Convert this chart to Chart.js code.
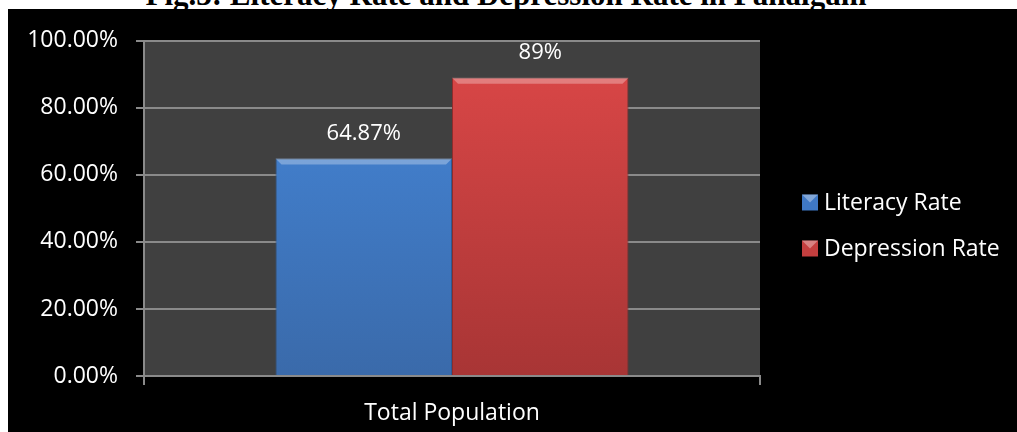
<!DOCTYPE html>
<html>
<head>
<meta charset="utf-8">
<script src="https://cdn.jsdelivr.net/npm/chart.js@4.4.1/dist/chart.umd.min.js"></script>
<style>
    html, body { margin: 0; padding: 0; background: #fff; }
    body { width: 1017px; height: 432px; position: relative; overflow: hidden; }
    .fig-title {
        position: absolute; left: 0; top: -21px; width: 1012px;
        text-align: center; font: bold 31px "Liberation Serif", "DejaVu Serif", serif;
        line-height: 31px; color: #000; white-space: nowrap;
    }
    .chart-box {
        position: absolute; left: 8px; top: 9px; width: 1009px; height: 423px;
        background: #000;
    }
</style>
</head>
<body>
<div class="fig-title">Fig.3: Literacy Rate and Depression Rate in Pahalgam</div>
<div class="chart-box"><canvas id="chart1"></canvas></div>
<script>
// values
var categories = ['Total Population'];
var seriesNames = ['Literacy Rate', 'Depression Rate'];
var literacyRate = [64.87];
var depressionRate = [89];
var yTickValues = [0, 20, 40, 60, 80, 100];

var FONT = '"Open Sans", "Noto Sans", sans-serif';

function barGradient(top, bottom) {
    return function (ctx) {
        var area = ctx.chart.chartArea;
        if (!area) return top;
        var g = ctx.chart.ctx.createLinearGradient(0, area.top, 0, area.bottom);
        g.addColorStop(0, top);
        g.addColorStop(1, bottom);
        return g;
    };
}

var legendColors = ['#3f78c4', '#c43f3f'];

// dark gray plot background
var plotBg = {
    id: 'plotBg',
    beforeDraw: function (chart) {
        var a = chart.chartArea, c = chart.ctx;
        c.save();
        c.fillStyle = '#404040';
        c.fillRect(a.left, a.top, a.right - a.left, a.bottom - a.top);
        c.restore();
    }
};

// value labels above bars + small bevel on top edge
var barLabels = {
    id: 'barLabels',
    afterDatasetsDraw: function (chart) {
        var c = chart.ctx;
        c.save();
        chart.data.datasets.forEach(function (ds, i) {
            chart.getDatasetMeta(i).data.forEach(function (bar, j) {
                var half = bar.width / 2;
                c.fillStyle = 'rgba(255,255,255,0.3)';
                c.beginPath();
                c.moveTo(bar.x - half, bar.y);
                c.lineTo(bar.x + half, bar.y);
                c.lineTo(bar.x + half - 6, bar.y + 6);
                c.lineTo(bar.x - half + 6, bar.y + 6);
                c.closePath();
                c.fill();

                c.fillStyle = '#fff';
                c.font = '22px ' + FONT;
                c.textAlign = 'center';
                c.textBaseline = 'middle';
                c.fillText(ds.data[j] + '%', bar.x, bar.y - 25);
            });
        });
        c.restore();
    }
};

// legend on the right, vertically centred in the black box
var sideLegend = {
    id: 'sideLegend',
    afterDraw: function (chart) {
        var c = chart.ctx;
        var x = chart.chartArea.right + 42;
        var mid = chart.height / 2 + 5;
        c.save();
        c.font = '23px ' + FONT;
        c.textBaseline = 'middle';
        c.textAlign = 'left';
        chart.data.datasets.forEach(function (ds, i) {
            var y = mid + (i - 0.5) * 46;
            c.fillStyle = legendColors[i];
            c.fillRect(x, y - 8, 16, 16);
            c.fillStyle = 'rgba(255,255,255,0.35)';
            c.beginPath();
            c.moveTo(x, y - 8);
            c.lineTo(x + 16, y - 8);
            c.lineTo(x + 8, y);
            c.closePath();
            c.fill();
            c.fillStyle = '#fff';
            c.fillText(ds.label, x + 22, y + 1);
        });
        c.restore();
    }
};

var chart1 = new Chart(document.getElementById('chart1'), {
    type: 'bar',
    data: {
        labels: categories,
        datasets: [
            {
                label: seriesNames[0],
                data: literacyRate,
                backgroundColor: barGradient('#4587da', '#3a6aaa'),
                borderColor: '#2f5a92',
                borderWidth: 1,
                categoryPercentage: 0.573,
                barPercentage: 1
            },
            {
                label: seriesNames[1],
                data: depressionRate,
                backgroundColor: barGradient('#dd4848', '#a83535'),
                borderColor: '#8e2c2c',
                borderWidth: 1,
                categoryPercentage: 0.573,
                barPercentage: 1
            }
        ]
    },
    options: {
        responsive: true,
        maintainAspectRatio: false,
        animation: false,
        layout: { padding: { top: 29, right: 257, left: 0, bottom: 0 } },
        plugins: {
            legend: { display: false },
            tooltip: { enabled: false }
        },
        scales: {
            x: {
                afterFit: function (s) { s.height = 56; },
                grid: { offset: true, drawOnChartArea: false, color: '#8a8a8a', lineWidth: 2, tickLength: 9 },
                border: { color: '#8a8a8a', width: 2 },
                ticks: { color: '#fff', font: { family: FONT, size: 23 }, padding: 15 }
            },
            y: {
                min: 0,
                max: 100,
                afterFit: function (s) { s.width = 136; },
                afterBuildTicks: function (s) {
                    s.ticks = yTickValues.map(function (v) { return { value: v }; });
                },
                grid: { color: '#8a8a8a', lineWidth: 2, tickLength: 8 },
                border: { color: '#8a8a8a', width: 2 },
                ticks: {
                    color: '#fff',
                    font: { family: FONT, size: 23 },
                    padding: 18,
                    callback: function (v) { return v.toFixed(2) + '%'; }
                }
            }
        }
    },
    plugins: [plotBg, barLabels, sideLegend]
});
</script>
</body>
</html>
